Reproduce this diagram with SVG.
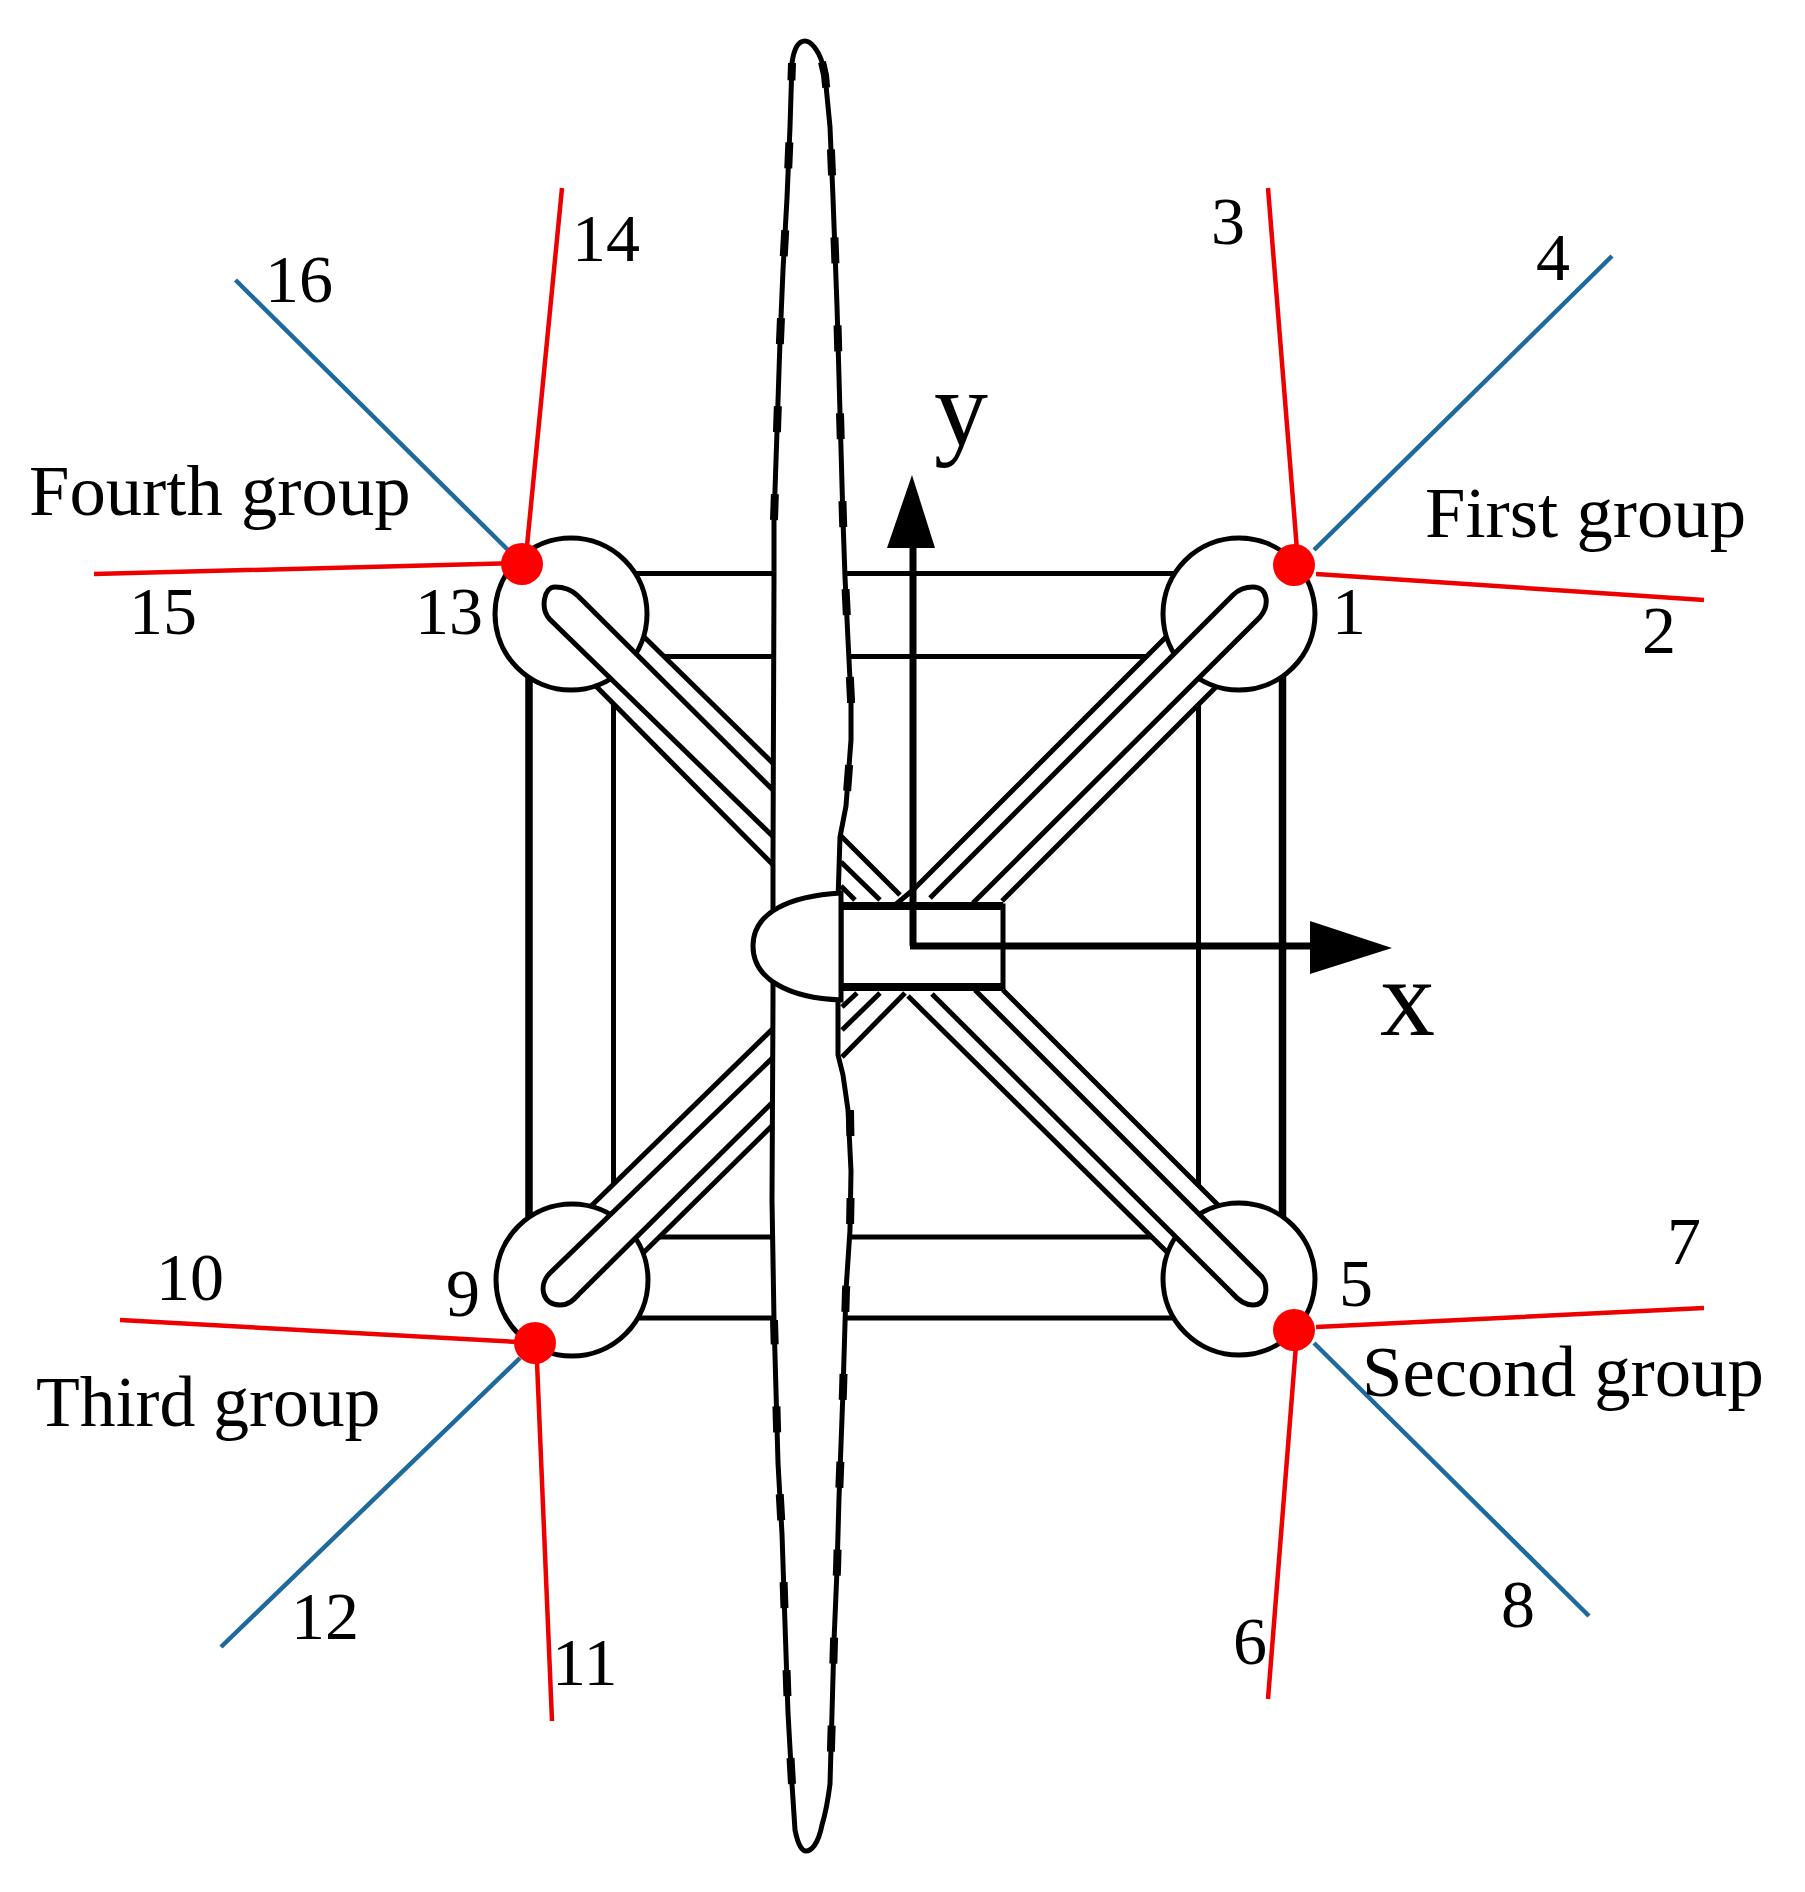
<svg xmlns="http://www.w3.org/2000/svg" width="1805" height="1892" viewBox="0 0 1805 1892">
<defs><style>
.k{fill:none;stroke:#000;stroke-width:5}
.w{fill:#fff;stroke:#000;stroke-width:5}
.n{fill:#fff;stroke:none}
.r{stroke:#ec0000;stroke-width:4.5;fill:none}
.b{stroke:#1f6a9c;stroke-width:4.5;fill:none}
.d{fill:#f00}
text{font-family:"Liberation Serif","Times New Roman",serif;font-size:68px;fill:#000}
text.g{font-size:72.700px}
</style></defs>
<rect width="1805" height="1892" fill="#fff"/>
<g id="frame">
<path class="k" d="M529 573.500H1282.500M529 1318H1282.500"/>
<path class="k" style="stroke-width:7.500" d="M529 573.500V1318M1282.500 573.500V1318"/>
<rect class="k" x="613.500" y="656.500" width="585" height="580.500"/>
</g>
<g id="arms">
<path class="n" d="M635 628L790 780V882L585 675Z"/>
<path class="n" d="M1175 628L913 890L1002 901L1225 678Z"/>
<path class="n" d="M585 1212L790 1012V1108L630 1266Z"/>
<path class="n" d="M1225 1212L1003 990H908L1175 1260Z"/>
<path class="k" d="M635 628L790 780M585 675L790 882M841 836L900 895M841 862L880 900M841 886L855 900"/>
<path class="k" d="M1175 628L913 890L895 905M1225 678L1002 901"/>
<path class="k" d="M585 1212L790 1012M630 1266L790 1108M842 1030L880 993M842 1057L905 993M842 1007L857 993"/>
<path class="k" d="M1225 1212L1003 990M1175 1260L908 996"/>
</g>
<g id="hubs">
<circle class="w" cx="571" cy="614" r="76"/>
<circle class="w" cx="1239" cy="614" r="76"/>
<circle class="w" cx="572" cy="1280" r="76"/>
<circle class="w" cx="1239" cy="1279" r="76"/>
</g>
<g id="slots" class="w">
<path d="M790 807L578 596C570 588 560 587 555 587C544 587 540 608 549.500 619L790 853"/>
<path d="M930 898L1233 595C1240 588 1248 587 1253 587C1268 587 1270 605 1260 617L973 903"/>
<path d="M790 1041L550 1273C538 1285 542 1305 560 1305C570 1305 575 1298 580 1293L790 1085"/>
<path d="M975 990L1262 1277C1268 1285 1268 1305 1253 1305C1245 1305 1238 1300 1232 1293L932 994"/>
</g>
<g id="body">
<rect class="w" x="841" y="906" width="162" height="81"/>
<path class="k" style="stroke-width:8" d="M841 906H1003M841 987H1003"/>
</g>
<g id="blade">
<path id="blade-edge" class="w" stroke-linejoin="round" d="M805 41C811 41 818 50 822 62L825 75L830 127L833 198L837 306L840 413L843 520L845 577L848 640L851 700L851 740L846 806L840 837L838 900L838 1000L838 1055L843 1075L848 1110L851 1171L850 1230L846 1290L843 1391L839 1498L837 1570L834 1641L832 1713L830 1784C828 1800 825 1815 822 1825C818 1845 811 1851 806 1851C802 1851 798 1845 795 1830L792 1784L788 1713L785 1624L782 1534L778 1463L776 1391L774 1320L772 1200L773 1000L773 860L774 577L774 520L777 431L780 341L783 270L787 198L790 127L792 63C794 48 799 41 805 41Z"/>
<path class="k" style="stroke-width:8;stroke-dasharray:26 62" d="M822 62L825 75L830 127L833 198L837 306L840 413L843 520L845 577L848 640L851 700L851 740L846 806M850 1110L851 1171L850 1230L846 1290L843 1391L839 1498L837 1570L834 1641L832 1713L830 1784M792 1784L788 1713L785 1624L782 1534L778 1463L776 1391L774 1320M774 520L777 431L780 341L783 270L787 198L790 127L792 63"/>
</g>
<g id="nose">
<path class="w" d="M841 893C790 896 753 912 753 946C753 980 790 998 841 1000Z"/>
</g>
<g id="axes">
<path d="M913 946V540M910 946H1320" fill="none" stroke="#000" stroke-width="7"/>
<polygon points="912,475 887,548 935,548"/>
<polygon points="1392,948 1310,921 1310,974"/>
<text class="g" x="934" y="445" style="font-size:108px">y</text>
<text class="g" x="1380" y="1035" style="font-size:110px">x</text>
</g>
<g id="connectors">
<path class="r" d="M1297 550L1268 188M1316 574L1704 600"/><path class="b" d="M1314 550L1612 256"/>
<path class="r" d="M1316 1327L1704 1308M1296 1345L1268 1699"/><path class="b" d="M1314 1343L1589 1616"/>
<path class="r" d="M535 1343L120 1320M537 1362L552 1721"/><path class="b" d="M520 1358L221 1647"/>
<path class="r" d="M527 546L562 188M522 563L94 574"/><path class="b" d="M508 550L235.500 280"/>
</g>
<g id="first-group"><circle class="d" cx="1294" cy="565" r="21"/><text class="g" x="1425" y="537">First group</text><text x="1332" y="634">1</text><text x="1642" y="653">2</text><text x="1211" y="244">3</text><text x="1536" y="280">4</text></g>
<g id="second-group"><circle class="d" cx="1294" cy="1330" r="21"/><text class="g" x="1362" y="1396">Second group</text><text x="1339" y="1306">5</text><text x="1233" y="1664">6</text><text x="1667" y="1264">7</text><text x="1501" y="1627">8</text></g>
<g id="third-group"><circle class="d" cx="535" cy="1343" r="21"/><text class="g" x="36" y="1426" style="font-size:71.700px">Third group</text><text x="446" y="1316">9</text><text x="156" y="1300">10</text><text x="552" y="1685">11</text><text x="291" y="1639">12</text></g>
<g id="fourth-group"><circle class="d" cx="522" cy="564" r="21"/><text class="g" x="29" y="515">Fourth group</text><text x="415" y="634">13</text><text x="572" y="261">14</text><text x="129" y="634">15</text><text x="265" y="302">16</text></g>
</svg>
